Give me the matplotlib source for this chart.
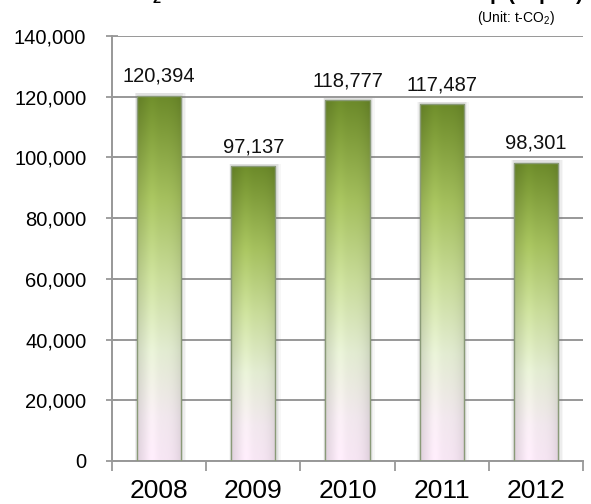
import numpy as np
import matplotlib
matplotlib.use("Agg")
import matplotlib.pyplot as plt
from matplotlib.colors import LinearSegmentedColormap
from matplotlib.patches import Rectangle

plt.rcParams["font.family"] = ["Liberation Sans", "DejaVu Sans"]
plt.rcParams["mathtext.fontset"] = "custom"
plt.rcParams["mathtext.rm"] = "Liberation Sans"
plt.rcParams["mathtext.it"] = "Liberation Sans"
plt.rcParams["mathtext.bf"] = "Liberation Sans:bold"

# Data
years = ["2008", "2009", "2010", "2011", "2012"]
emissions = [120394, 97137, 118777, 117487, 98301]
y_ticks = [0, 20000, 40000, 60000, 80000, 100000, 120000, 140000]

fig = plt.figure(figsize=(5.91, 5.04), dpi=100)
ax = fig.add_axes([112 / 591, 1 - 461 / 504, 471 / 591, 425 / 504])

x = np.arange(len(years))
bar_w = 0.47
bars = ax.bar(x, emissions, width=bar_w, color="none", edgecolor="#8a9a78",
              linewidth=1.0, zorder=3)

# vertical gradient: dark olive at the top fading to a pale pink base
grad_cmap = LinearSegmentedColormap.from_list(
    "leaf",
    [(0.0, "#f7e6f4"), (0.12, "#f2e8ee"), (0.3, "#e3ecd2"),
     (0.5, "#c9dc9a"), (0.72, "#a5c05e"), (0.9, "#809d3b"), (1.0, "#6c8a2a")])
ny, nx = 256, 64
v = np.linspace(0, 1, ny)[:, None]
h = np.linspace(-1, 1, nx)[None, :]
shade = 1 - 0.10 * np.abs(h) ** 3 + 0.04 * np.exp(-((h + 0.35) / 0.25) ** 2)
for rect in bars:
    x0, w, hgt = rect.get_x(), rect.get_width(), rect.get_height()
    rgb = grad_cmap(np.repeat(v, nx, axis=1))[..., :3]
    rgb = np.clip(rgb * shade[..., None], 0, 1)
    im = ax.imshow(rgb, extent=[x0, x0 + w, 0, hgt], origin="lower",
                   aspect="auto", zorder=2.5, interpolation="bilinear")
    im.set_clip_path(rect)
    # soft drop shadow around the bar
    for k, a in [(0.05, 0.05), (0.035, 0.07), (0.02, 0.09)]:
        ax.add_patch(Rectangle((x0 - k * 0.5, 0), w + k * 1.6, hgt + 700,
                               facecolor="#707070", edgecolor="none",
                               alpha=a, zorder=2.2))
    ax.annotate(f"{hgt:,.0f}", (x0 + w / 2, hgt), xytext=(0, 7),
                textcoords="offset points", ha="center", va="bottom",
                fontsize=14.5, color="#111111")

ax.set_xlim(-0.5, len(years) - 0.5)
ax.set_ylim(0, 140000)
ax.set_yticks(y_ticks)
ax.set_yticklabels([f"{t:,}" for t in y_ticks], fontsize=14.5)
ax.yaxis.grid(True, color="#989898", linewidth=1.4, zorder=1)
ax.set_axisbelow(True)

ax.set_xticks(x)
ax.set_xticklabels(years, fontsize=19)
ax.set_xticks(np.arange(-0.5, len(years)), minor=True)
ax.tick_params(axis="x", which="major", length=0, pad=13)
ax.tick_params(axis="x", which="minor", length=7, width=1.3, color="#989898",
               direction="out")
ax.tick_params(axis="y", length=9, width=1.3, color="#989898",
               direction="inout", pad=14)

for side in ["top", "right"]:
    ax.spines[side].set_visible(False)
for side in ["left", "bottom"]:
    ax.spines[side].set_color("#989898")
    ax.spines[side].set_linewidth(1.4)

fig.text(555 / 591, 1 - 18 / 504, r"(Unit: t-CO$_2$)", ha="right",
         va="center", fontsize=10)
fig.text(583 / 591, 1.0,
         r"CO$_\mathbf{2}$ Emissions of the Domestic Group (Japan)",
         ha="right", va="baseline", fontsize=15, fontweight="bold")

fig.savefig("out.png", dpi=100)
